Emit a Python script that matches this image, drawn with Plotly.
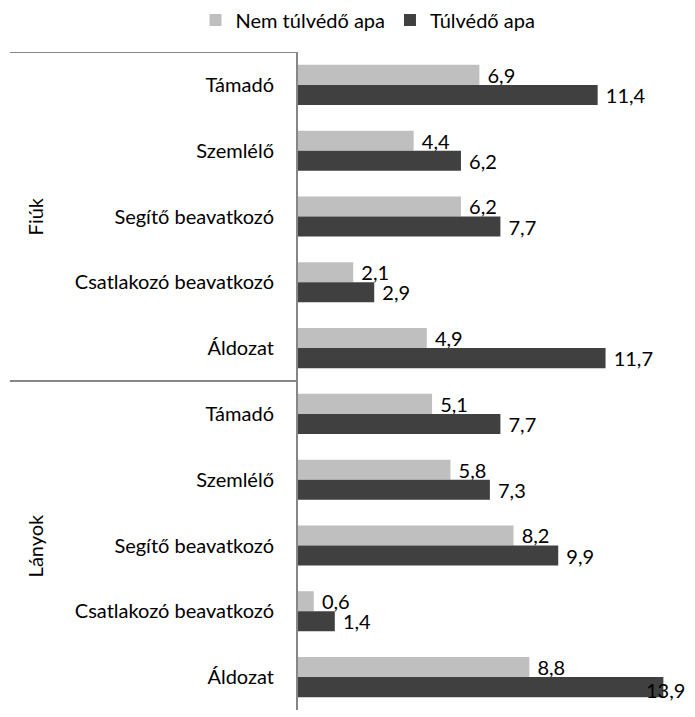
import plotly.graph_objects as go

categories = ["Támadó", "Szemlélő", "Segítő beavatkozó", "Csatlakozó beavatkozó", "Áldozat",
              "Támadó", "Szemlélő", "Segítő beavatkozó", "Csatlakozó beavatkozó", "Áldozat"]
groups = ["Fiúk", "Lányok"]
nem_tulvedo = [6.9, 4.4, 6.2, 2.1, 4.9, 5.1, 5.8, 8.2, 0.6, 8.8]
tulvedo = [11.4, 6.2, 7.7, 2.9, 11.7, 7.7, 7.3, 9.9, 1.4, 13.9]
series_names = ["Nem túlvédő apa", "Túlvédő apa"]

pos = list(range(len(categories)))
FONT = "Lato, 'Open Sans', sans-serif"
FS = 20

def fmt(v):
    return ("%.1f" % v).replace(".", ",")

light_text = [" " + fmt(v) for v in nem_tulvedo]
# the last dark label is drawn as an annotation (it overlaps the bar end in the reference)
dark_text = [" " + fmt(v) for v in tulvedo]
dark_text[-1] = ""

fig = go.Figure()
fig.add_trace(go.Bar(
    y=pos, x=nem_tulvedo, orientation="h", name=series_names[0],
    marker=dict(color="#BFBFBF", line=dict(width=0)),
    text=light_text, texttemplate="%{text}", textposition="outside", constraintext="none",
    textfont=dict(size=FS, color="#000000", family=FONT), cliponaxis=False,
))
fig.add_trace(go.Bar(
    y=pos, x=tulvedo, orientation="h", name=series_names[1],
    marker=dict(color="#404040", line=dict(width=0)),
    text=dark_text, texttemplate="%{text}", textposition="outside", constraintext="none",
    textfont=dict(size=FS, color="#000000", family=FONT), cliponaxis=False,
))

shapes = []
for yv in [-0.5, 4.5]:
    shapes.append(dict(type="line", xref="paper", yref="y", x0=-0.783, x1=0, y0=yv, y1=yv,
                       line=dict(color="#868686", width=2)))

annotations = []
for i, g in enumerate(groups):
    annotations.append(dict(text=g, xref="paper", yref="y", x=-0.715, y=2 + 5 * i,
                            xanchor="center", yanchor="middle",
                            showarrow=False, textangle=-90,
                            font=dict(size=FS, color="#000000", family=FONT)))
annotations.append(dict(text=fmt(tulvedo[-1]), xref="x", yref="y",
                        x=tulvedo[-1], y=pos[-1] + 0.2, xanchor="left", yanchor="middle",
                        xshift=-19, showarrow=False,
                        font=dict(size=FS, color="#000000", family=FONT)))

fig.update_layout(
    width=687, height=709,
    margin=dict(l=290, r=29, t=44, b=7),
    paper_bgcolor="white", plot_bgcolor="white",
    barmode="group", bargap=0.39, bargroupgap=0,
    font=dict(family=FONT, size=FS, color="#000000"),
    showlegend=True,
    legend=dict(orientation="h", xref="container", yref="container",
                x=360 / 687, y=1 - 12 / 709, xanchor="center", yanchor="middle",
                font=dict(size=FS, family=FONT), traceorder="normal"),
    xaxis=dict(range=[0, 14], showgrid=False, zeroline=False, showticklabels=False,
               showline=False, ticks=""),
    yaxis=dict(range=[9.5, -0.5], tickmode="array", tickvals=pos, ticktext=categories,
               showgrid=False, zeroline=False, showline=True, linecolor="#868686",
               linewidth=2, ticks="", ticklabelstandoff=18,
               tickfont=dict(size=FS, family=FONT, color="#000000")),
    shapes=shapes, annotations=annotations,
)

fig.write_html("out.html")
